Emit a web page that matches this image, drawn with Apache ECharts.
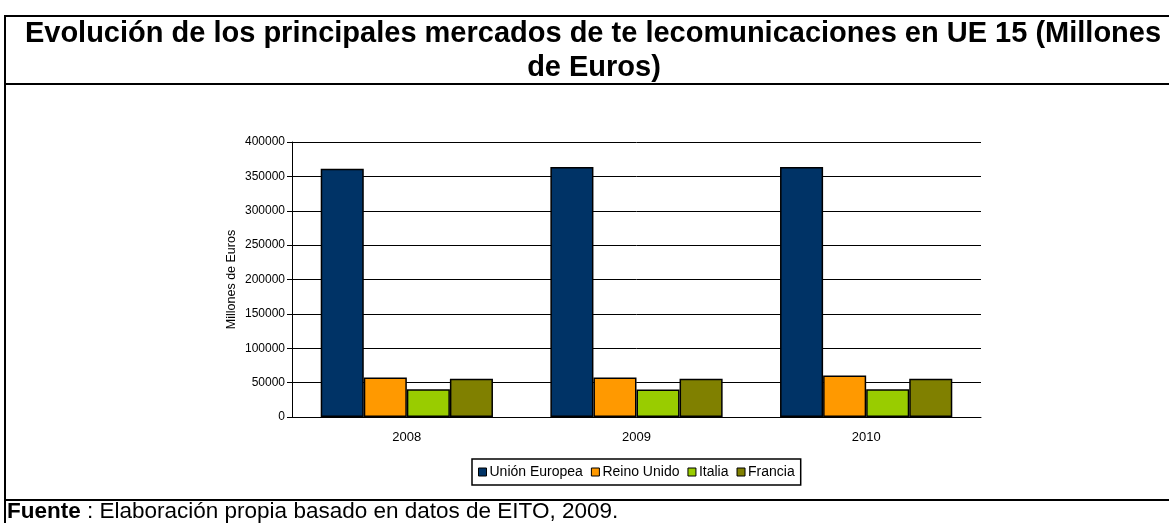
<!DOCTYPE html>
<html>
<head>
<meta charset="utf-8">
<script src="https://cdn.jsdelivr.net/npm/echarts@6/dist/echarts.min.js"></script>
<style>
  html, body { margin: 0; padding: 0; background: #fff; }
  #main { width: 1169px; height: 523px; }
</style>
</head>
<body>
<div id="main"></div>
<script>
// datos
var years = ["2008", "2009", "2010"];
var seriesNames = ["Unión Europea", "Reino Unido", "Italia", "Francia"];
var unionEuropea = [361000, 363500, 363500];
var reinoUnido = [57500, 57500, 60500];
var italia = [40500, 40000, 40500];
var francia = [55500, 55500, 55500];
var yTicks = [0, 50000, 100000, 150000, 200000, 250000, 300000, 350000, 400000];

var colors = ["#003366", "#FF9900", "#99CC00", "#808000"];
var font = "Liberation Sans, Arial, sans-serif";

var chartDom = document.getElementById("main");
var myChart = echarts.init(chartDom);

function barSerie(name, data, color) {
  return {
    name: name,
    type: "bar",
    data: data,
    barGap: "0%",
    barCategoryGap: "25%",
    itemStyle: { color: color, borderColor: "#000", borderWidth: 1.5 },
  };
}

var option = {
  animation: false,
  textStyle: { fontFamily: font },
  grid: { left: 292, right: 188, top: 142, bottom: 106 },
  legend: {
    left: 472,
    top: 459,
    padding: [6, 6, 6, 6],
    borderColor: "#000",
    borderWidth: 1.5,
    itemWidth: 8,
    itemHeight: 8,
    itemGap: 8,
    icon: "rect",
    textStyle: { fontSize: 14, color: "#000", fontFamily: font, padding: [0, 0, 0, -2] },
    itemStyle: { borderColor: "#000", borderWidth: 1 },
    data: seriesNames,
  },
  xAxis: {
    type: "category",
    data: years,
    axisLine: { lineStyle: { color: "#000", width: 1 } },
    axisTick: { alignWithLabel: false, length: 5, lineStyle: { color: "#000" } },
    axisLabel: { color: "#000", fontSize: 13, margin: 14 },
  },
  yAxis: {
    type: "value",
    min: yTicks[0],
    max: yTicks[yTicks.length - 1],
    interval: yTicks[1] - yTicks[0],
    name: "Millones de Euros",
    nameLocation: "middle",
    nameGap: 54,
    nameMoveOverlap: false,
    nameTextStyle: { color: "#000", fontSize: 12.5 },
    axisLine: { show: true, lineStyle: { color: "#000", width: 1 } },
    axisTick: { show: true, length: 5, lineStyle: { color: "#000" } },
    axisLabel: {
      color: "#000",
      fontSize: 12,
      margin: 7,
      formatter: function (v) { return String(v); },
    },
    splitLine: { lineStyle: { color: "#000", width: 1 } },
  },
  series: [
    barSerie(seriesNames[0], unionEuropea, colors[0]),
    barSerie(seriesNames[1], reinoUnido, colors[1]),
    barSerie(seriesNames[2], italia, colors[2]),
    barSerie(seriesNames[3], francia, colors[3]),
  ],
  graphic: [
    // marco de la tabla
    { type: "line", shape: { x1: 4, y1: 16, x2: 1169, y2: 16 }, style: { stroke: "#000", lineWidth: 2 } },
    { type: "line", shape: { x1: 4, y1: 84, x2: 1169, y2: 84 }, style: { stroke: "#000", lineWidth: 2 } },
    { type: "line", shape: { x1: 4, y1: 500, x2: 1169, y2: 500 }, style: { stroke: "#000", lineWidth: 2 } },
    { type: "line", shape: { x1: 5, y1: 15, x2: 5, y2: 523 }, style: { stroke: "#000", lineWidth: 2 } },
    // titulo
    {
      type: "text",
      style: {
        x: 593,
        y: 34,
        text: "Evolución de los principales mercados de te lecomunicaciones en UE 15 (Millones",
        font: "bold 29px " + font,
        fill: "#000",
        align: "center",
        verticalAlign: "middle",
      },
    },
    {
      type: "text",
      style: {
        x: 594,
        y: 68,
        text: "de Euros)",
        font: "bold 29px " + font,
        fill: "#000",
        align: "center",
        verticalAlign: "middle",
      },
    },
    // fuente
    {
      type: "text",
      style: {
        x: 7,
        y: 512,
        text: "{b|Fuente} : Elaboración propia basado en datos de EITO, 2009.",
        font: "22.5px " + font,
        fill: "#000",
        verticalAlign: "middle",
        rich: { b: { fontWeight: "bold", fontSize: 22.5, fontFamily: font } },
      },
    },
  ],
};

myChart.setOption(option);
</script>
</body>
</html>
